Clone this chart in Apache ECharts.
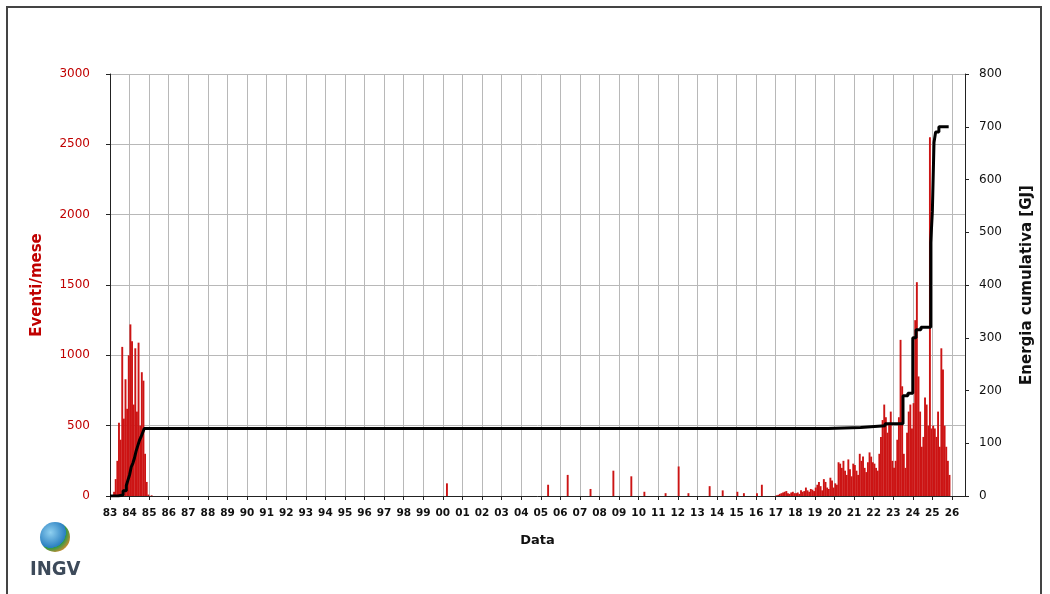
<!DOCTYPE html>
<html>
<head>
<meta charset="utf-8">
<script src="https://cdn.jsdelivr.net/npm/echarts@6/dist/echarts.min.js"></script>
<style>
  html, body { margin: 0; padding: 0; background: #fff; }
  #frame { position: absolute; left: 6px; top: 6px; width: 1036px; height: 590px; border: 2px solid #444; box-sizing: border-box; }
  #chart { position: absolute; left: 0; top: 0; width: 1050px; height: 594px; }
  #logo { position: absolute; left: 30px; top: 522px; font-family: "DejaVu Sans Condensed", sans-serif; font-weight: bold; color: #3d4a5a; font-size: 20px; text-align: center; }
  #logo .ball { width: 30px; height: 30px; border-radius: 50%; margin: 0 auto 4px; background: radial-gradient(circle at 35% 35%, #8fd0f0, #2a7fc0 55%, #2e9a4a 56%, #e08a2a 80%); }
</style>
</head>
<body>
<div id="chart"></div>
<div id="frame"></div>
<div id="logo"><div class="ball"></div>INGV</div>
<script>
// month index 0 = Jan 1983
const startYear = 1983
const eventi83_84 = [0, 5, 30, 120, 250, 520, 400, 1060, 550, 830, 620, 1000,
  1220, 1100, 650, 1050, 600, 1090, 500, 880, 820, 300, 100, 10]
// sparse months [mese, eventi] 1985-2016
const eventiSparsi = [[25, 5], [206, 90], [268, 80], [280, 150], [294, 50], [308, 180], [319, 140],
  [327, 30], [340, 20], [348, 210], [354, 20], [367, 70], [375, 40], [384, 30], [388, 20], [399, 80], [396, 20]]
const eventi17_25 = [
  5, 8, 15, 20, 25, 30, 35, 20, 15, 25, 30, 20,
  20, 25, 15, 40, 30, 35, 60, 40, 30, 50, 45, 35,
  60, 80, 100, 70, 40, 120, 100, 60, 50, 130, 110, 60,
  90, 80, 240, 230, 200, 250, 180, 150, 260, 190, 140, 230,
  220, 180, 150, 300, 250, 280, 200, 170, 240, 310, 280, 240,
  230, 200, 180, 300, 420, 540, 650, 560, 450, 520, 600, 250,
  200, 250, 400, 560, 1110, 780, 300, 200, 450, 600, 650, 480,
  660, 1250, 1520, 850, 600, 350, 420, 700, 650, 500, 2550, 480,
  500, 480, 420, 600, 350, 1050, 900, 500, 350, 250, 150]
// cumulative energy steps [mese, GJ]
const energia = [[0, 0], [5, 2], [8, 10], [10, 20], [11, 30], [12, 40], [13, 55], [14, 62], [15, 72],
  [16, 85], [17, 95], [18, 105], [19, 112], [20, 120], [21, 128], [440, 130], [460, 133], [475, 137],
  [486, 190], [489, 195], [492, 300], [494, 315], [497, 320], [503, 480], [504, 540], [505, 670],
  [506, 690], [508, 700], [514, 700]]

const bars = []
eventi83_84.forEach((v, i) => bars.push([i + 0.5, v]))
eventiSparsi.forEach(([m, v]) => bars.push([m + 0.5, v]))
eventi17_25.forEach((v, i) => bars.push([408 + i + 0.5, v]))

const chart = echarts.init(document.getElementById('chart'))
const font = 'Verdana, "DejaVu Sans", sans-serif'
chart.setOption({
  animation: false,
  grid: { left: 110, right: 85, top: 74, bottom: 98 },
  xAxis: {
    type: 'value', min: 0, max: 524, interval: 12,
    name: 'Data', nameLocation: 'middle', nameGap: 38,
    nameTextStyle: { fontFamily: font, fontWeight: 'bold', fontSize: 13, color: '#111' },
    axisLine: { lineStyle: { color: '#222' } },
    axisTick: { show: true, length: 4, lineStyle: { color: '#222' } },
    axisLabel: {
      fontFamily: font, fontWeight: 'bold', fontSize: 10.5, color: '#111', margin: 12,
      formatter: v => String((startYear + v / 12) % 100).padStart(2, '0')
    },
    splitLine: { show: true, lineStyle: { color: '#b8b8b8' } }
  },
  yAxis: [{
    type: 'value', min: 0, max: 3000, interval: 500,
    name: 'Eventi/mese', nameLocation: 'middle', nameGap: 65, nameRotate: 90,
    nameTextStyle: { fontFamily: font, fontWeight: 'bold', fontSize: 15, color: '#c00000' },
    axisLine: { show: true, lineStyle: { color: '#222' } },
    axisTick: { show: true, length: 4 },
    axisLabel: { fontFamily: font, fontSize: 12, color: '#c00000', margin: 20, formatter: v => String(v) },
    splitLine: { lineStyle: { color: '#b8b8b8' } }
  }, {
    type: 'value', min: 0, max: 800, interval: 100,
    name: 'Energia cumulativa [GJ]', nameLocation: 'middle', nameGap: 55, nameRotate: 90,
    nameTextStyle: { fontFamily: font, fontWeight: 'bold', fontSize: 15, color: '#111' },
    axisLine: { show: true, lineStyle: { color: '#222' } },
    axisTick: { show: true, length: 4 },
    axisLabel: { fontFamily: font, fontSize: 12, color: '#111', margin: 14, formatter: v => String(v) },
    splitLine: { show: false }
  }],
  series: [{
    type: 'bar', data: bars, barWidth: 1.9, yAxisIndex: 0,
    itemStyle: { color: '#cc1414' }
  }, {
    type: 'line', data: energia, yAxisIndex: 1, step: 'end', symbol: 'none',
    lineStyle: { color: '#000', width: 3 }, z: 5
  }]
})
</script>
</body>
</html>
